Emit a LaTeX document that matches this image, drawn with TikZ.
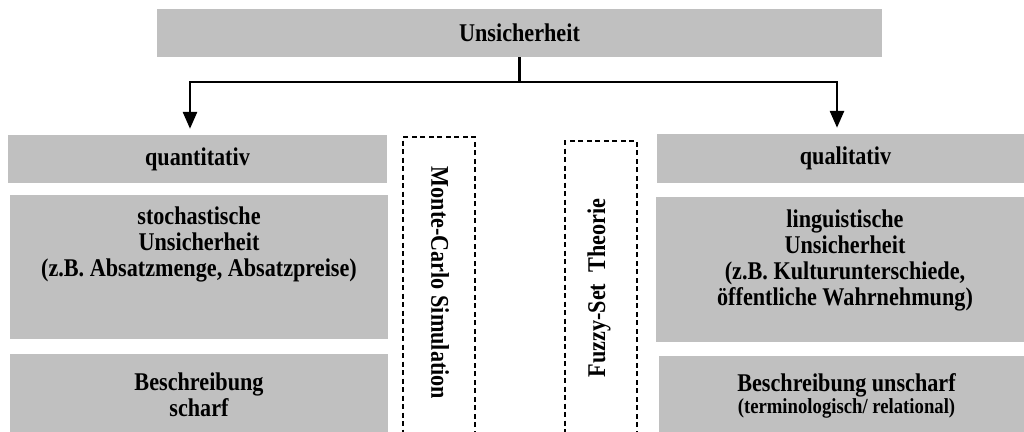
\documentclass[tikz,border=0pt]{standalone}
\usepackage{fontspec}
\setmainfont{Liberation Serif}[FakeStretch=0.87]
\usetikzlibrary{arrows.meta}
\definecolor{boxgray}{HTML}{C0C0C0}
\begin{document}
\begin{tikzpicture}[x=1pt,y=-1pt,
  txt/.style={inner sep=0pt, align=center, font=\bfseries\fontsize{25.5}{26}\selectfont},
  graybox/.style={txt, fill=boxgray, draw=none},
  dashbox/.style={draw=black, line width=1.9pt, dash pattern=on 5pt off 3.5pt, inner sep=0pt},
  conn/.style={line width=2.8pt, line join=miter},
  arr/.style={conn, -{Triangle[width=14pt,length=17pt]}, shorten >=6pt},
]
\useasboundingbox (0,0) rectangle (1024,431);

% top
\node[graybox, minimum width=725pt, minimum height=48pt] (top) at (519.5,33) {Unsicherheit};

% left column
\node[graybox, minimum width=379pt, minimum height=48pt] (quant) at (197.5,159) {quantitativ};
\node[graybox, minimum width=378pt, minimum height=144pt] (stoch) at (199,267) {};
\node[txt] (stochT) at (199,244) {stochastische\\Unsicherheit\\(z.B. Absatzmenge, Absatzpreise)};
\node[graybox, minimum width=378pt, minimum height=82pt] (scharf) at (199,395) {Beschreibung\\scharf};

% right column
\node[graybox, minimum width=377pt, minimum height=49pt] (qual) at (845.5,158.5) {qualitativ};
\node[graybox, minimum width=378pt, minimum height=145pt] (ling) at (845,269.5) {};
\node[txt] (lingT) at (845,260) {linguistische\\Unsicherheit\\(z.B. Kulturunterschiede,\\öffentliche Wahrnehmung)};
\node[graybox, minimum width=375pt, minimum height=80pt] (unscharf) at (846.5,396) {Beschreibung unscharf\\[-4pt]{\fontsize{21.5}{22}\selectfont (terminologisch/ relational)}};

% dashed boxes
\node[dashbox, minimum width=72pt, minimum height=303pt] (mc) at (439,288.5) {};
\node[txt, rotate=-90] (mcT) at (440,283) {Monte-Carlo Simulation};
\node[dashbox, minimum width=72pt, minimum height=299pt] (fz) at (601,290.5) {};
\node[txt, rotate=90] (fzT) at (599,288) {Fuzzy-Set\ \ Theorie};

% connectors
\coordinate (j) at (519.5,82);
\coordinate (jl) at (190,82);
\coordinate (jr) at (837,82);
\draw[conn] (top.south) -- (j);
\draw[arr] (j) -| (jl |- quant.north);
\draw[arr] (j) -| (jr |- qual.north);
\end{tikzpicture}
\end{document}
